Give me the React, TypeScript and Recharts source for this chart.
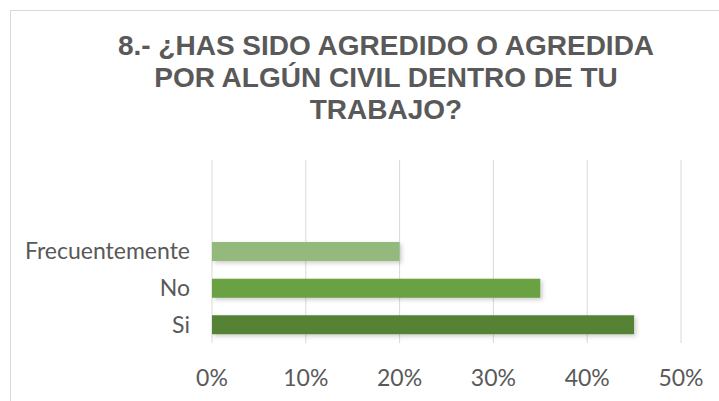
import React from 'react';
import { BarChart, Bar, XAxis, YAxis, CartesianGrid, Cell } from 'recharts';

// Datos
const categorias = ['Frecuentemente', 'No', 'Si'];
const porcentajes = [0.2, 0.35, 0.45];
const colores = ['#93BA7C', '#6AA142', '#548235'];
const ticksX = [0, 0.1, 0.2, 0.3, 0.4, 0.5];
const tituloLineas = ['8.- ¿HAS SIDO AGREDIDO O AGREDIDA', 'POR ALGÚN CIVIL DENTRO DE TU', 'TRABAJO?'];

const App: React.FC = () => {
  const chartData = categorias.map((name, i) => ({ name, value: porcentajes[i], color: colores[i] }));

  return (
    <div style={{ position: 'fixed', left: 0, top: 0, width: 719, height: 401, overflow: 'hidden', background: '#fff' }}>
      {/* marco del gráfico */}
      <div
        style={{
          position: 'absolute',
          left: 10,
          top: 10,
          width: 760,
          height: 440,
          border: '1px solid #d9d9d9',
          boxSizing: 'border-box',
        }}
      />
      <div
        style={{
          position: 'absolute',
          left: 0,
          top: 30,
          width: 772,
          textAlign: 'center',
          fontFamily: '"Liberation Sans", Arial, sans-serif',
          fontWeight: 'bold',
          fontSize: 28,
          lineHeight: '32px',
          color: '#595959',
        }}
      >
        {tituloLineas.map((l, i) => (
          <div key={i}>{l}</div>
        ))}
      </div>
      <div style={{ position: 'absolute', left: 0, top: 0 }}>
        <BarChart
          width={719}
          height={401}
          data={chartData}
          layout="vertical"
          margin={{ top: 160, right: 38, left: 0, bottom: 28 }}
        >
          <defs>
            <filter id="sombra" x="-10%" y="-30%" width="130%" height="180%">
              <feDropShadow dx="2" dy="2" stdDeviation="2" floodColor="#000" floodOpacity="0.2" />
            </filter>
          </defs>
          <CartesianGrid horizontal={false} vertical={true} stroke="#d9d9d9" strokeWidth={1} />
          <XAxis
            type="number"
            domain={[0, 0.5]}
            ticks={ticksX}
            tickFormatter={(v: number) => `${Math.round(v * 100)}%`}
            axisLine={false}
            tickLine={false}
            tickMargin={21}
            height={30}
            tick={{ fill: '#595959', fontSize: 23, fontFamily: 'Lato, "Open Sans", sans-serif' }}
          />
          <YAxis
            type="category"
            dataKey="name"
            width={212}
            padding={{ top: 73, bottom: 0 }}
            axisLine={false}
            tickLine={false}
            tickMargin={16}
            tick={{ fill: '#595959', fontSize: 23, fontFamily: 'Lato, "Open Sans", sans-serif' }}
          />
          <Bar dataKey="value" barSize={19} isAnimationActive={false} filter="url(#sombra)">
            {chartData.map((entry, index) => (
              <Cell key={`cell-${index}`} fill={entry.color} />
            ))}
          </Bar>
        </BarChart>
      </div>
    </div>
  );
};

export default App;
